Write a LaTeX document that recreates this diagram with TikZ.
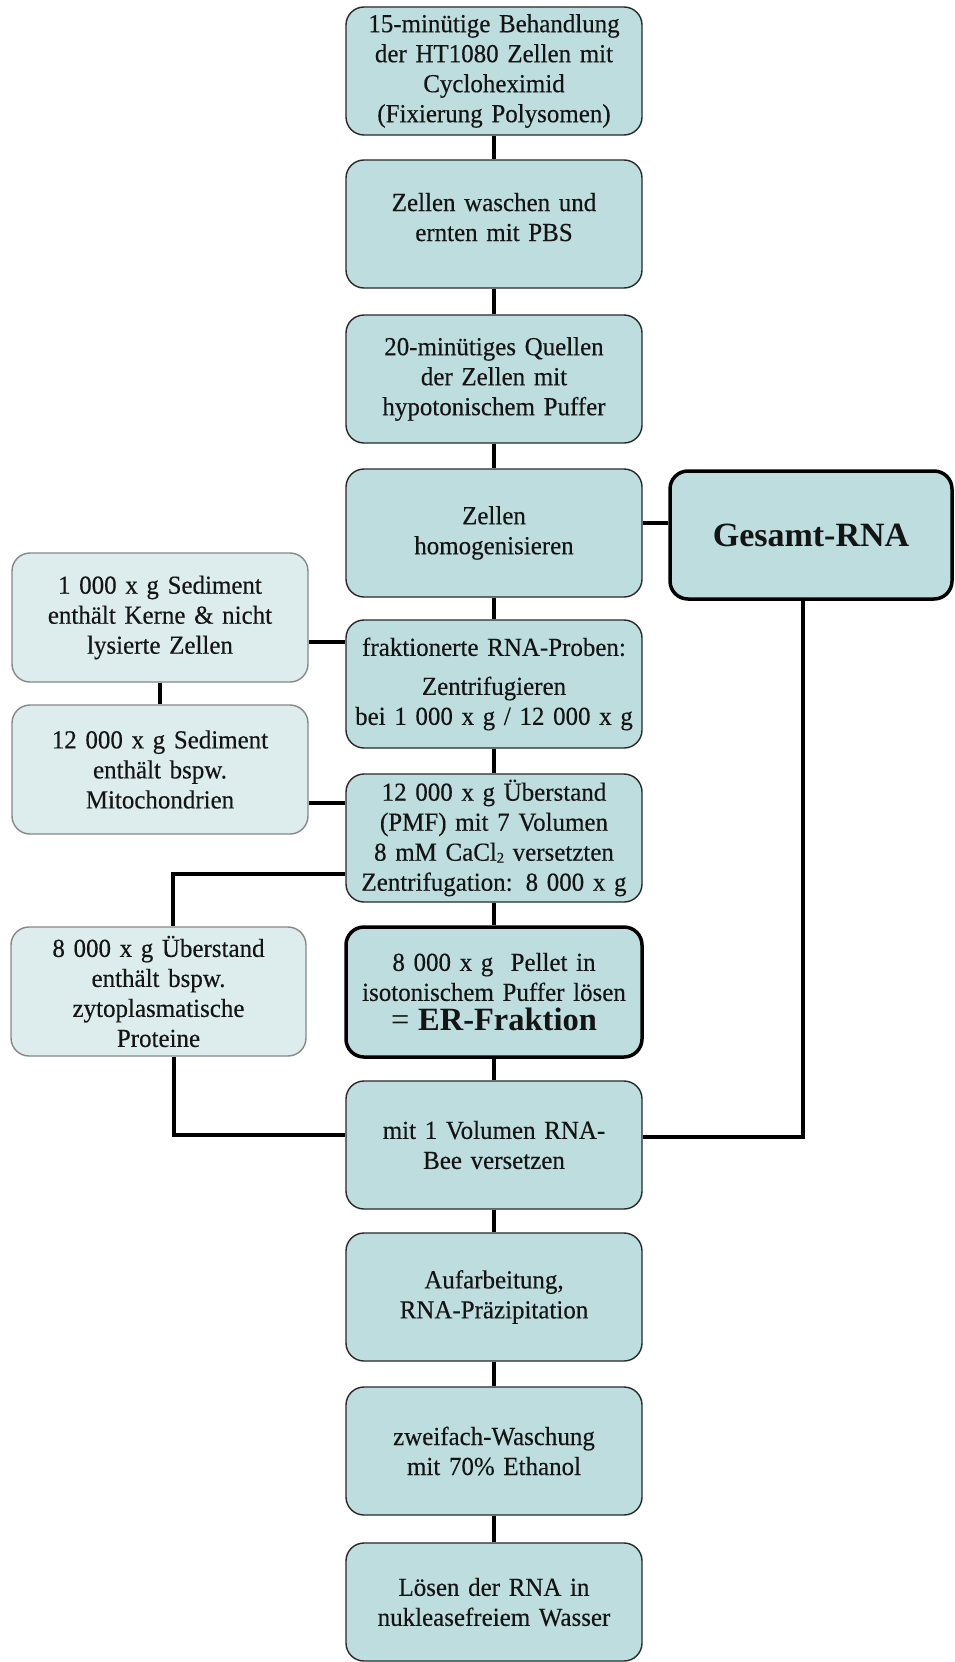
\documentclass[tikz,border=0pt]{standalone}
\usepackage{fontspec}
\setmainfont{Liberation Serif}[FakeStretch=0.96,FakeBold=0.3,WordSpace=0.8]
\newfontfamily\boldserif{Liberation Serif}[FakeStretch=1.0]
\definecolor{mainfill}{RGB}{190,221,222}
\definecolor{sidefill}{RGB}{221,236,236}
\definecolor{sideline}{RGB}{135,135,135}
\definecolor{mainline}{RGB}{40,40,40}
\definecolor{txt}{RGB}{20,20,20}
\begin{document}
\begin{tikzpicture}[x=1pt,y=-1pt,
  box/.style={rectangle, rounded corners=18pt, align=center, inner sep=0pt,
    text width=#1, text=txt, font=\fontsize{26}{30}\selectfont},
  mainbox/.style={box=292pt, fill=mainfill, draw=mainline, line width=1.4pt,
    minimum width=296pt, minimum height=128pt},
  boldbox/.style={mainbox, draw=black, line width=3.5pt},
  sidebox/.style={box=292pt, fill=sidefill, draw=sideline, line width=1.4pt,
    minimum width=296pt, minimum height=129pt},
  conn/.style={draw=black, line width=3.5pt}
]
\useasboundingbox (0,0) rectangle (955,1662);

% main column
\node[mainbox] (b1) at (494,71) {15-minütige Behandlung\\der HT1080 Zellen mit\\Cycloheximid\\(Fixierung Polysomen)};
\node[mainbox] (b2) at (494,224) {Zellen waschen und\\ernten mit PBS\\[-16pt]\mbox{}};
\node[mainbox] (b3) at (494,379) {20-minütiges Quellen\\der Zellen mit\\hypotonischem Puffer};
\node[mainbox] (b4) at (494,533) {Zellen\\homogenisieren};
\node[mainbox] (b5) at (494,684) {fraktionerte RNA-Proben:\\[9pt]Zentrifugieren\\bei 1 000 x g / 12 000 x g};
\node[mainbox] (b6) at (494,838) {12 000 x g Überstand\\(PMF) mit 7 Volumen\\8 mM CaCl{\fontsize{15}{15}\selectfont\raisebox{-2pt}{2}} versetzten\\Zentrifugation: 8 000 x g};
\node[boldbox, minimum height=130pt] (b7) at (494,992) {8 000 x g\ \ Pellet in\\isotonischem Puffer lösen\\{\boldserif\fontsize{32.5}{30}\selectfont = \textbf{ER-Fraktion}}};
\node[mainbox] (b8) at (494,1145) {mit 1 Volumen RNA-\\Bee versetzen};
\node[mainbox] (b9) at (494,1297) {Aufarbeitung,\\RNA-Präzipitation};
\node[mainbox] (b10) at (494,1451) {zweifach-Waschung\\mit 70\% Ethanol};
\node[mainbox, minimum height=118pt] (b11) at (494,1602) {Lösen der RNA in\\nukleasefreiem Wasser};

% right
\node[boldbox, minimum width=282pt, text width=270pt, font=\boldserif\fontsize{34}{40}\selectfont\bfseries] (ges) at (811,535) {Gesamt-RNA};

% left
\node[sidebox] (l1) at (160,617.5) {1 000 x g Sediment\\enthält Kerne \& nicht\\lysierte Zellen};
\node[sidebox] (l2) at (160,769.5) {12 000 x g Sediment\\enthält bspw.\\Mitochondrien};
\node[sidebox, minimum width=295pt] (l3) at (158.5,991.5) {8 000 x g Überstand\\enthält bspw.\\zytoplasmatische\\Proteine};

% connectors
\foreach \a/\b in {b1/b2,b2/b3,b3/b4,b4/b5,b5/b6,b6/b7,b7/b8,b8/b9,b9/b10,b10/b11}
  \draw[conn] (\a.south) -- (\b.north);
\draw[conn] (b4.east |- 0,523) -- (ges.west |- 0,523);
\draw[conn] (l1.east |- 0,642) -- (b5.west |- 0,642);
\draw[conn] (l1.south) -- (l2.north);
\draw[conn] (l2.east |- 0,803) -- (b6.west |- 0,803);
\draw[conn] (b6.west |- 0,874) -| (l3.north -| 173,0);
\draw[conn] (l3.south -| 174,0) |- (b8.west |- 0,1135);
\draw[conn] (ges.south -| 803,0) |- (b8.east |- 0,1137);
\end{tikzpicture}
\end{document}
